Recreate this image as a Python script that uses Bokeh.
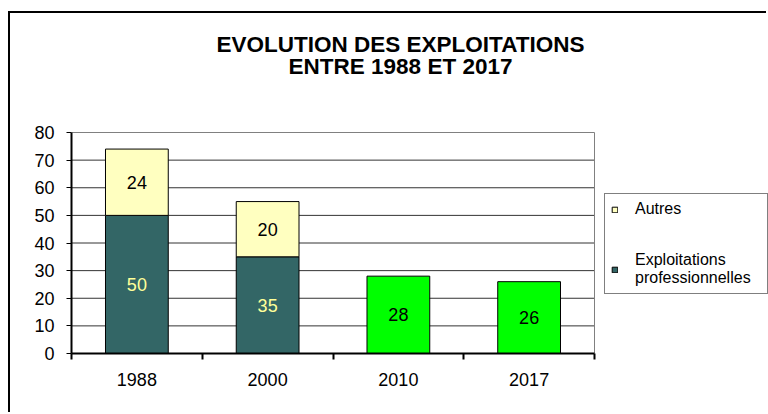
from bokeh.plotting import figure
from bokeh.models import (ColumnDataSource, FixedTicker, Legend, LegendItem, Range1d,
                          Label)
from bokeh.core.properties import value
from bokeh.embed import file_html
from bokeh.resources import INLINE

# ---- data ----
years = ["1988", "2000", "2010", "2017"]
pro = [50, 35, 28, 26]
autres = [24, 20, 0, 0]
pro_colors = ["#336666", "#336666", "#00FF00", "#00FF00"]
pro_label_colors = ["#FFFF99", "#FFFF99", "#000000", "#000000"]
y_ticks = [0, 10, 20, 30, 40, 50, 60, 70, 80]
title_lines = ["EVOLUTION DES EXPLOITATIONS", "ENTRE 1988 ET 2017"]

FONT = "Liberation Sans"

# ---- layout constants (pixels) ----
FIG_X0, FIG_Y0 = 10, 13          # figure origin on the page (css margins)
PLOT_L, PLOT_R = 71, 594         # plot area edges in the page
PLOT_T, PLOT_B = 132, 353
FRAME_R = 768                    # frame extends to the right edge (room for legend)
FRAME_T = FIG_Y0                 # frame extends to the top (room for title)

n = len(years)
ymax = y_ticks[-1]
x_end = n * (FRAME_R - PLOT_L) / (PLOT_R - PLOT_L)
y_end = ymax * (PLOT_B - FRAME_T) / (PLOT_B - PLOT_T)

xc = [i + 0.5 for i in range(n)]

pro_src = ColumnDataSource(dict(
    x=xc, top=pro, bottom=[0] * n, color=pro_colors,
    ly=[v / 2 for v in pro], lt=[str(v) for v in pro], lc=pro_label_colors))

ai = [i for i, v in enumerate(autres) if v > 0]
aut_src = ColumnDataSource(dict(
    x=[xc[i] for i in ai], bottom=[pro[i] for i in ai],
    top=[pro[i] + autres[i] for i in ai],
    ly=[pro[i] + autres[i] / 2 for i in ai],
    lt=[str(autres[i]) for i in ai]))

p = figure(width=768 - FIG_X0, height=414 - FIG_Y0, output_backend="svg",
           toolbar_location=None,
           x_range=Range1d(0, x_end), y_range=Range1d(0, y_end),
           min_border_left=PLOT_L - FIG_X0, min_border_right=0, min_border_top=0,
           min_border_bottom=414 - PLOT_B)
p.styles = {"margin-left": "%dpx" % FIG_X0, "margin-top": "%dpx" % FIG_Y0,
            "box-shadow": "-2px -2px 0px 0px #000000"}
p.background_fill_color = "white"
p.border_fill_color = "white"
p.outline_line_color = None
p.xgrid.visible = False
p.ygrid.visible = False

# plot-area grid lines (limited to the plot area)
inner = y_ticks[1:-1]
p.segment(x0=[0] * len(inner), x1=[n] * len(inner), y0=inner, y1=inner,
          line_color="#333333", line_width=1)
p.segment(x0=[0, n], x1=[n, n], y0=[ymax, 0], y1=[ymax, ymax],
          line_color="#808080", line_width=1)

# y axis
p.yaxis.ticker = FixedTicker(ticks=y_ticks)
p.yaxis.bounds = (0, ymax)
p.yaxis.axis_line_color = "black"
p.yaxis.axis_line_width = 2
p.yaxis.major_tick_out = 5
p.yaxis.major_tick_in = 0
p.yaxis.minor_tick_line_color = None
p.yaxis.major_label_standoff = 12
p.yaxis.major_label_text_font = FONT
p.yaxis.major_label_text_font_size = "18px"
p.yaxis.major_label_text_color = "black"

# x axis
p.xaxis.ticker = FixedTicker(ticks=xc, minor_ticks=list(range(n + 1)))
p.xaxis.bounds = (0, n)
p.xaxis.major_label_overrides = {x: y for x, y in zip(xc, years)}
p.xaxis.axis_line_color = "black"
p.xaxis.axis_line_width = 2
p.xaxis.major_tick_out = 0
p.xaxis.major_tick_in = 0
p.xaxis.minor_tick_out = 6
p.xaxis.minor_tick_in = 0
p.xaxis.minor_tick_line_color = "black"
p.xaxis.minor_tick_line_width = 2
p.xaxis.major_label_standoff = 13
p.xaxis.major_label_text_font = FONT
p.xaxis.major_label_text_font_size = "18px"
p.xaxis.major_label_text_color = "black"

# bars
pro_r = p.vbar(x="x", top="top", bottom="bottom", width=0.48, source=pro_src,
               fill_color="color", line_color="black", line_width=1)
aut_r = p.vbar(x="x", top="top", bottom="bottom", width=0.48, source=aut_src,
               fill_color="#FFFFC0", line_color="black", line_width=1)

# data labels
p.text(x="x", y="ly", text="lt", source=pro_src, text_align="center",
       text_baseline="middle", text_font=value(FONT), text_font_size="18px",
       text_color="lc")
p.text(x="x", y="ly", text="lt", source=aut_src, text_align="center",
       text_baseline="middle", text_font=value(FONT), text_font_size="18px",
       text_color="black")

# title (two centred lines)
for txt, base in zip(title_lines, [44, 66]):
    p.add_layout(Label(x=400 - PLOT_L, y=PLOT_B - base, x_units="screen",
                       y_units="screen", text=txt, text_align="center",
                       text_baseline="alphabetic", text_font=FONT,
                       text_font_style="bold", text_font_size="22.5px",
                       text_color="black"))

# legend
legend = Legend(items=[
    LegendItem(label="Autres", renderers=[aut_r], index=0),
    LegendItem(label="Exploitations\nprofessionnelles", renderers=[pro_r], index=0),
], location=(604 - PLOT_L, PLOT_B - 294))
legend.margin = 0
legend.border_line_color = "black"
legend.border_line_width = 1
legend.background_fill_color = "white"
legend.label_text_font = FONT
legend.label_text_font_size = "16px"
legend.label_text_line_height = 1.25
legend.label_text_color = "black"
legend.label_width = 126
legend.glyph_width = 7
legend.glyph_height = 7
legend.label_standoff = 17
legend.padding = 6
legend.spacing = 33
p.add_layout(legend, "center")

open("out.html", "w").write(file_html(p, INLINE))
